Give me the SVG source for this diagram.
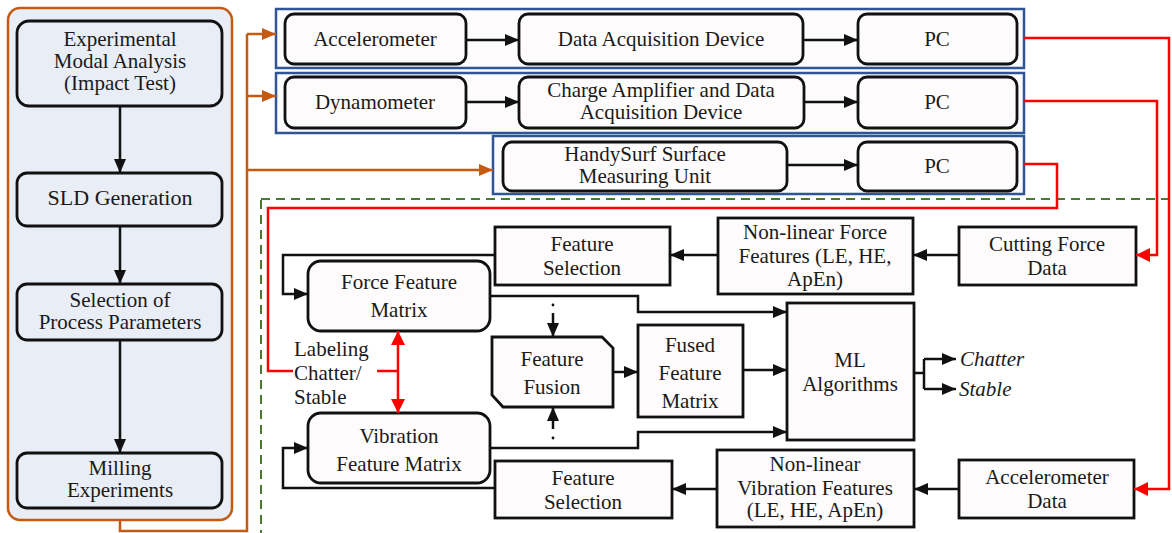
<svg xmlns="http://www.w3.org/2000/svg" width="1172" height="533" viewBox="0 0 1172 533">
  <style>
    text { font-family: Liberation Serif, Tinos, Times New Roman, Times, serif; font-size: 21px; fill: #1a1a1a; text-anchor: middle; }
    .lbl { text-anchor: start; }
    .it { font-style: italic; text-anchor: start; }
    .panel { fill: #e9edf6; stroke: #c55a11; stroke-width: 2.5; }
    .step { fill: #e9edf6; stroke: #111; stroke-width: 2.8; }
    .group { fill: #fdfbfb; stroke: #2f5597; stroke-width: 2.5; }
    .node { fill: #fdfbfb; stroke: #111; stroke-width: 2.8; }
    .wire { fill: none; stroke: #111; stroke-width: 2.5; }
    .orange { fill: none; stroke: #c55a11; stroke-width: 2.5; }
    .red { fill: none; stroke: #ff0000; stroke-width: 2.5; }
    .zone { fill: none; stroke: #4a7a32; stroke-width: 2; stroke-dasharray: 9 6; }
  </style>
  <defs>
    <marker id="ah" viewBox="0 0 14 12" refX="14" refY="6" markerWidth="14" markerHeight="12" markerUnits="userSpaceOnUse" orient="auto">
      <path d="M0,0 L14,6 L0,12 z" fill="#111"/>
    </marker>
    <marker id="ahO" viewBox="0 0 14 12" refX="14" refY="6" markerWidth="14" markerHeight="12" markerUnits="userSpaceOnUse" orient="auto">
      <path d="M0,0 L14,6 L0,12 z" fill="#c55a11"/>
    </marker>
    <marker id="ahR" viewBox="0 0 14 14" refX="14" refY="7" markerWidth="14" markerHeight="14" markerUnits="userSpaceOnUse" orient="auto-start-reverse">
      <path d="M0,0 L14,7 L0,14 z" fill="#ff0000"/>
    </marker>
  </defs>

  <rect width="1172" height="533" fill="#ffffff"/>

  <!-- machining zone boundary -->
  <rect class="zone" x="261" y="199" width="930" height="350"/>

  <!-- experiment workflow panel -->
  <g id="workflow">
    <rect class="panel" x="8" y="8" width="224" height="512" rx="12"/>
  </g>
  <g id="modal-analysis">
    <rect class="step" x="17" y="21" width="205" height="85" rx="12"/>
    <text x="120" y="46">Experimental</text>
    <text x="120" y="68">Modal Analysis</text>
    <text x="120" y="90">(Impact Test)</text>
  </g>
  <g id="sld-generation">
    <rect class="step" x="17" y="173" width="205" height="53" rx="10"/>
    <text x="120" y="205" style="font-size:22px">SLD Generation</text>
  </g>
  <g id="process-parameters">
    <rect class="step" x="17" y="284" width="205" height="56" rx="10"/>
    <text x="120" y="307">Selection of</text>
    <text x="120" y="329">Process Parameters</text>
  </g>
  <g id="milling">
    <rect class="step" x="17" y="453" width="205" height="55" rx="10"/>
    <text x="120" y="475">Milling</text>
    <text x="120" y="497">Experiments</text>
  </g>

  <!-- measurement chains -->
  <g id="vibration-chain">
    <rect class="group" x="276" y="9" width="748" height="59"/>
  </g>
  <g id="accelerometer">
    <rect class="node" x="285" y="14" width="181" height="50" rx="9"/>
    <text x="375" y="46">Accelerometer</text>
  </g>
  <g id="daq">
    <rect class="node" x="519" y="14" width="284" height="50" rx="9"/>
    <text x="661" y="46">Data Acquisition Device</text>
  </g>
  <g id="pc-1">
    <rect class="node" x="858" y="14" width="159" height="50" rx="9"/>
    <text x="937" y="46">PC</text>
  </g>

  <g id="force-chain">
    <rect class="group" x="276" y="73" width="748" height="60"/>
  </g>
  <g id="dynamometer">
    <rect class="node" x="285" y="77" width="181" height="51" rx="9"/>
    <text x="375" y="109">Dynamometer</text>
  </g>
  <g id="charge-amp">
    <rect class="node" x="519" y="77" width="285" height="51" rx="9"/>
    <text x="661" y="97">Charge Amplifier and Data</text>
    <text x="661" y="119">Acquisition Device</text>
  </g>
  <g id="pc-2">
    <rect class="node" x="858" y="77" width="159" height="51" rx="9"/>
    <text x="937" y="109">PC</text>
  </g>

  <g id="surface-chain">
    <rect class="group" x="493" y="136" width="531" height="58"/>
  </g>
  <g id="handysurf">
    <rect class="node" x="503" y="142" width="284" height="49" rx="9"/>
    <text x="645" y="161">HandySurf Surface</text>
    <text x="645" y="183">Measuring Unit</text>
  </g>
  <g id="pc-3">
    <rect class="node" x="858" y="142" width="159" height="49" rx="9"/>
    <text x="937" y="173">PC</text>
  </g>

  <!-- feature processing -->
  <g id="cutting-force-data">
    <rect class="node" x="959" y="227" width="177" height="58"/>
    <text x="1047" y="251">Cutting Force</text>
    <text x="1047" y="275">Data</text>
  </g>
  <g id="force-features">
    <rect class="node" x="718" y="218" width="195" height="76"/>
    <text x="815" y="239">Non-linear Force</text>
    <text x="815" y="263">Features (LE, HE,</text>
    <text x="815" y="286">ApEn)</text>
  </g>
  <g id="force-selection">
    <rect class="node" x="495" y="227" width="175" height="58"/>
    <text x="582" y="251">Feature</text>
    <text x="582" y="275">Selection</text>
  </g>
  <g id="force-matrix">
    <rect class="node" x="308" y="261" width="182" height="70" rx="13"/>
    <text x="399" y="289">Force Feature</text>
    <text x="399" y="317">Matrix</text>
  </g>
  <g id="labeling">
    <text class="lbl" x="294" y="356">Labeling</text>
    <text class="lbl" x="294" y="380">Chatter/</text>
    <text class="lbl" x="294" y="404">Stable</text>
  </g>
  <g id="vibration-matrix">
    <rect class="node" x="308" y="413" width="182" height="70" rx="13"/>
    <text x="399" y="443">Vibration</text>
    <text x="399" y="471">Feature Matrix</text>
  </g>
  <g id="feature-fusion">
    <path class="node" d="M492,337 L602,337 L613,348 L613,407 L503,407 L492,395 Z"/>
    <text x="552" y="366">Feature</text>
    <text x="552" y="394">Fusion</text>
  </g>
  <g id="fused-matrix">
    <rect class="node" x="638" y="325" width="105" height="92"/>
    <text x="690" y="352">Fused</text>
    <text x="690" y="380">Feature</text>
    <text x="690" y="408">Matrix</text>
  </g>
  <g id="ml">
    <rect class="node" x="787" y="303" width="127" height="137"/>
    <text x="850" y="367">ML</text>
    <text x="850" y="391">Algorithms</text>
  </g>
  <g id="outputs">
    <text class="it" x="960" y="366">Chatter</text>
    <text class="it" x="959" y="396">Stable</text>
  </g>
  <g id="accelerometer-data">
    <rect class="node" x="959" y="460" width="175" height="58"/>
    <text x="1047" y="484">Accelerometer</text>
    <text x="1047" y="508">Data</text>
  </g>
  <g id="vibration-features">
    <rect class="node" x="717" y="450" width="197" height="77"/>
    <text x="815" y="471">Non-linear</text>
    <text x="815" y="495">Vibration Features</text>
    <text x="815" y="517">(LE, HE, ApEn)</text>
  </g>
  <g id="vibration-selection">
    <rect class="node" x="495" y="461" width="177" height="57"/>
    <text x="583" y="485">Feature</text>
    <text x="583" y="509">Selection</text>
  </g>

  <g id="connectors">
    <!-- workflow steps -->
    <path class="wire" d="M120,106 V173" marker-end="url(#ah)"/>
    <path class="wire" d="M120,226 V284" marker-end="url(#ah)"/>
    <path class="wire" d="M120,340 V453" marker-end="url(#ah)"/>

    <!-- milling experiments feed the measurement chains -->
    <path class="orange" d="M120,520 V531 H247 V34"/>
    <path class="orange" d="M247,34 H276" marker-end="url(#ahO)"/>
    <path class="orange" d="M247,96 H276" marker-end="url(#ahO)"/>
    <path class="orange" d="M247,170 H493" marker-end="url(#ahO)"/>

    <!-- chain links -->
    <path class="wire" d="M466,40 H519" marker-end="url(#ah)"/>
    <path class="wire" d="M803,40 H858" marker-end="url(#ah)"/>
    <path class="wire" d="M466,102 H519" marker-end="url(#ah)"/>
    <path class="wire" d="M804,102 H858" marker-end="url(#ah)"/>
    <path class="wire" d="M787,165 H858" marker-end="url(#ah)"/>

    <!-- recorded signals -->
    <path class="red" d="M1024,38 H1169 V489 H1134" marker-end="url(#ahR)"/>
    <path class="red" d="M1024,101 H1157 V255 H1136" marker-end="url(#ahR)"/>
    <path class="red" d="M1024,164 H1057 V208 H268 V371 H293"/>
    <path class="red" d="M377,371 H398"/>
    <path class="red" d="M398,331 V413" marker-start="url(#ahR)" marker-end="url(#ahR)"/>

    <!-- force branch -->
    <path class="wire" d="M959,255 H913" marker-end="url(#ah)"/>
    <path class="wire" d="M718,255 H670" marker-end="url(#ah)"/>
    <path class="wire" d="M495,255 H283 V294 H308" marker-end="url(#ah)"/>
    <path class="wire" d="M490,296 H638 V312 H787" marker-end="url(#ah)"/>
    <circle cx="553" cy="305" r="1.4" fill="#111"/>
    <path class="wire" d="M553,313 V337" marker-end="url(#ah)"/>

    <!-- fusion -->
    <path class="wire" d="M613,372 H638" marker-end="url(#ah)"/>
    <path class="wire" d="M743,370 H787" marker-end="url(#ah)"/>

    <!-- vibration branch -->
    <path class="wire" d="M959,489 H914" marker-end="url(#ah)"/>
    <path class="wire" d="M717,489 H672" marker-end="url(#ah)"/>
    <path class="wire" d="M495,488 H283 V448 H308" marker-end="url(#ah)"/>
    <path class="wire" d="M490,448 H638 V432 H787" marker-end="url(#ah)"/>
    <circle cx="553" cy="438" r="1.4" fill="#111"/>
    <path class="wire" d="M553,429 V407" marker-end="url(#ah)"/>

    <!-- classifier outputs -->
    <path class="wire" d="M914,373 H924"/>
    <path class="wire" d="M924,359 V389"/>
    <path class="wire" d="M924,359 H956" marker-end="url(#ah)"/>
    <path class="wire" d="M924,389 H956" marker-end="url(#ah)"/>
  </g>
</svg>
